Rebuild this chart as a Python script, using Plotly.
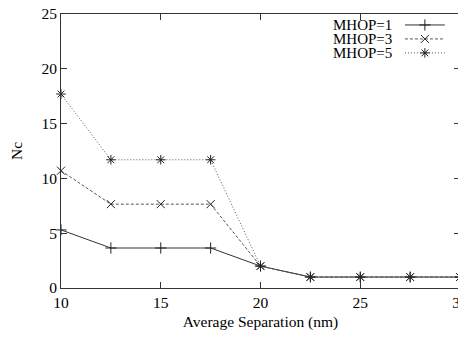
import plotly.graph_objects as go

separation = [10, 12.5, 15, 17.5, 20, 22.5, 25, 27.5, 30]
mhop1 = [5.3, 3.65, 3.65, 3.65, 2.0, 1.0, 1.0, 1.0, 1.0]
mhop3 = [10.7, 7.65, 7.65, 7.65, 2.0, 1.0, 1.0, 1.0, 1.0]
mhop5 = [17.7, 11.7, 11.7, 11.7, 2.0, 1.0, 1.0, 1.0, 1.0]
names = ["MHOP=1", "MHOP=3", "MHOP=5"]
x_ticks = [10, 15, 20, 25, 30]
y_ticks = [0, 5, 10, 15, 20, 25]

FONT = "Liberation Serif, Times New Roman, serif"
FS = 15.5
styles = [
    dict(dash="solid", symbol="cross-thin-open", color="#333333"),
    dict(dash="3px,2px", symbol="x-thin-open", color="#555555"),
    dict(dash="1px,2px", symbol="asterisk-open", color="#555555"),
]

fig = go.Figure()
for name, ys, st in zip(names, [mhop1, mhop3, mhop5], styles):
    fig.add_trace(go.Scatter(
        x=separation, y=ys, mode="lines+markers", name=name,
        line=dict(color=st["color"], width=1, dash=st["dash"]),
        marker=dict(symbol=st["symbol"], size=8, color="#222222",
                    line=dict(color="#222222", width=1)),
        cliponaxis=False, showlegend=False,
    ))

# gnuplot-style legend (text on the left, sample on the right)
rows = [0.960, 0.909, 0.858]
for name, st, ry in zip(names, styles, rows):
    fig.add_trace(go.Scatter(
        x=[0.862, 0.962], y=[ry, ry], xaxis="x2", yaxis="y2",
        mode="lines", line=dict(color=st["color"], width=1, dash=st["dash"]),
        showlegend=False, hoverinfo="skip",
    ))
    fig.add_trace(go.Scatter(
        x=[0.912], y=[ry], xaxis="x2", yaxis="y2", mode="markers",
        marker=dict(symbol=st["symbol"], size=8, color="#222222",
                    line=dict(color="#222222", width=1)),
        showlegend=False, hoverinfo="skip",
    ))
    fig.add_annotation(x=0.835, y=ry, xref="paper", yref="paper",
                       text=name, showarrow=False, xanchor="right",
                       yanchor="middle", height=12,
                       font=dict(family=FONT, size=15, color="black"))

axis_common = dict(
    showline=True, linecolor="#333333", linewidth=1, mirror="ticks",
    ticks="inside", ticklen=6, tickcolor="#333333", showgrid=False,
    zeroline=False, automargin=False, ticklabeloverflow="allow",
    tickfont=dict(family=FONT, size=FS, color="black"),
)
# the page body adds an 8px offset; margins compensate for it
fig.update_layout(
    width=458, height=331,
    margin=dict(l=53, r=6, t=6, b=51),
    paper_bgcolor="white", plot_bgcolor="white",
    showlegend=False,
    xaxis=dict(range=[10, 30], tickvals=x_ticks,
               title=dict(text="Average Separation (nm)", standoff=6,
                          font=dict(family=FONT, size=FS, color="black")),
               **axis_common),
    yaxis=dict(range=[0, 25], tickvals=y_ticks,
               title=dict(text="Nc", standoff=14,
                          font=dict(family=FONT, size=FS, color="black")),
               **axis_common),
    xaxis2=dict(range=[0, 1], domain=[0, 1], visible=False, anchor="y2", overlaying="x"),
    yaxis2=dict(range=[0, 1], domain=[0, 1], visible=False, anchor="x2", overlaying="y"),
)
fig.write_html("out.html")
